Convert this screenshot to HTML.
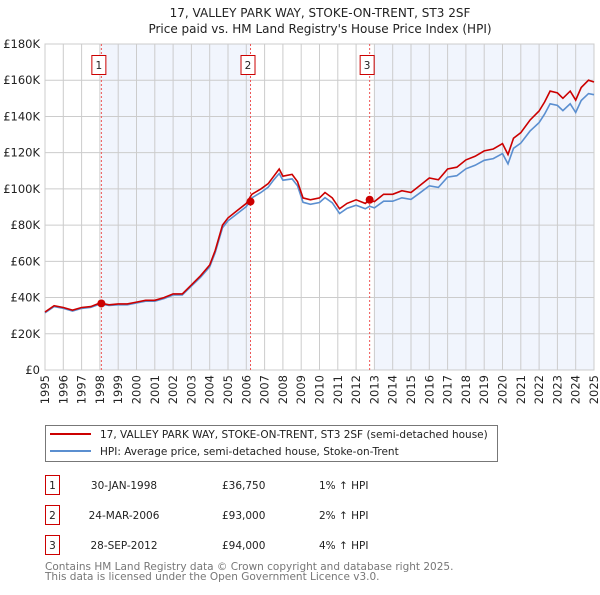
<!DOCTYPE html>
<html><head><meta charset="utf-8"><style>
body{margin:0;background:#fff;font-family:"Liberation Sans","DejaVu Sans",sans-serif;}
svg text{font-family:"DejaVu Sans","Liberation Sans",sans-serif;}
</style></head><body>
<svg id="c" width="600" height="590" viewBox="0 0 600 590" xmlns="http://www.w3.org/2000/svg">
<text x="320" y="17" text-anchor="middle" font-size="12" fill="#222">17, VALLEY PARK WAY, STOKE-ON-TRENT, ST3 2SF</text>
<text x="320" y="33" text-anchor="middle" font-size="12" fill="#222">Price paid vs. HM Land Registry's House Price Index (HPI)</text>
<g id="plot"></g>
<g>
<rect x="45.5" y="425.5" width="452" height="36" fill="#fff" stroke="#777"/>
<line x1="50" y1="434" x2="91" y2="434" stroke="#cc0000" stroke-width="2"/>
<text x="100" y="438" font-size="10.5" fill="#222">17, VALLEY PARK WAY, STOKE-ON-TRENT, ST3 2SF (semi-detached house)</text>
<line x1="50" y1="451" x2="91" y2="451" stroke="#5b8fd0" stroke-width="2"/>
<text x="100" y="455" font-size="10.5" fill="#222">HPI: Average price, semi-detached house, Stoke-on-Trent</text>
</g>
<g id="table" font-size="10.5" fill="#222"></g>
<text x="45" y="570" font-size="10.5" fill="#777">Contains HM Land Registry data © Crown copyright and database right 2025.</text>
<text x="45" y="580" font-size="10.5" fill="#777">This data is licensed under the Open Government Licence v3.0.</text>
</svg>
<script>
const years=[1995,1995.5,1996,1996.5,1997,1997.5,1998,1998.5,1999,1999.5,2000,2000.5,2001,2001.5,2002,2002.5,2003,2003.5,2004,2004.3,2004.7,2005,2005.5,2006,2006.3,2006.8,2007.2,2007.5,2007.8,2008,2008.5,2008.8,2009.1,2009.5,2010,2010.3,2010.7,2011.1,2011.5,2012,2012.5,2012.74,2013,2013.5,2014,2014.5,2015,2015.5,2016,2016.5,2017,2017.5,2018,2018.5,2019,2019.5,2020,2020.3,2020.6,2021,2021.5,2022,2022.3,2022.6,2023,2023.3,2023.7,2024,2024.3,2024.7,2025];
const price=[32,35.5,34.5,33,34.5,35,37,36,36.5,36.5,37.5,38.5,38.5,40,42,42,47,52,58,66,80,84,88,92,97,100,103,107,111,107,108,104,95,94,95,98,95,89,92,94,92,94,93,97,97,99,98,102,106,105,111,112,116,118,121,122,125,119,128,131,138,143,148,154,153,150,154,149,156,160,159];
const hpi=[31.6,35,34,32.6,34,34.6,36.4,35.6,36,36,37,38,38,39.4,41.4,41.4,46.3,51.2,57,64.8,78.5,82.4,86.3,90.2,95,98,101,105,108.5,104.8,105.5,101.7,92.6,91.5,92.5,95.2,92.3,86.4,89.2,91,89,90.4,89.5,93.2,93.2,95.1,94.2,97.9,101.7,100.8,106.5,107.3,111.1,113,115.8,116.7,119.5,113.8,122.4,125.3,131.9,136.6,141.3,147,146.1,143.2,147,142.2,148.8,152.6,152];
const yTicks=[0,20,40,60,80,100,120,140,160,180];
const xTicks=[1995,1996,1997,1998,1999,2000,2001,2002,2003,2004,2005,2006,2007,2008,2009,2010,2011,2012,2013,2014,2015,2016,2017,2018,2019,2020,2021,2022,2023,2024,2025];
const saleIds=["1","2","3"];
const saleDates=[1998.08,2006.23,2012.74];
const salePrices=[36.75,93,94];
const saleDateLabels=["30-JAN-1998","24-MAR-2006","28-SEP-2012"];
const salePriceLabels=["£36,750","£93,000","£94,000"];
const saleHpiLabels=["1% ↑ HPI","2% ↑ HPI","4% ↑ HPI"];

const L=45,R=594,T=44,B=370;
const X=v=>L+(v-1995)/30*(R-L);
const Y=v=>B-v/180*(B-T);
const NS="http://www.w3.org/2000/svg";
const plot=document.getElementById('plot');
function mk(tag,attrs,parent){const e=document.createElementNS(NS,tag);for(const k in attrs)e.setAttribute(k,attrs[k]);(parent||plot).appendChild(e);return e;}

let bg=mk('rect',{x:L,y:T,width:R-L,height:B-T,fill:'#fff'});


let s1=mk('rect',{x:X(saleDates[0]),y:T,width:X(saleDates[1])-X(saleDates[0]),height:B-T,fill:'#eef3fc',opacity:0.8});


let s2=mk('rect',{x:X(2013),y:T,width:R-X(2013),height:B-T,fill:'#eef3fc',opacity:0.8});



yTicks.forEach(v=>{
 let g=mk('line',{x1:L,x2:R,y1:Y(v),y2:Y(v),stroke:'#ccc','stroke-width':1});
 
 
 let t=mk('text',{x:40,y:Y(v)+4,'text-anchor':'end','font-size':11.5,fill:'#222'});
 t.textContent=v===0?'£0':'£'+v+'K';
 
 
});
xTicks.forEach(v=>{
 let g=mk('line',{x1:X(v),x2:X(v),y1:T,y2:B,stroke:'#ccc','stroke-width':1});
 
 
 let t=mk('text',{x:0,y:0,'text-anchor':'end','font-size':11.5,fill:'#222',transform:`translate(${X(v)+4},${B+5}) rotate(-90)`});
 t.textContent=v;
 
 
});
let fr=mk('rect',{x:L,y:T,width:R-L,height:B-T,fill:'none',stroke:'#ccc'});



saleDates.forEach((d,i)=>{
 let l=mk('line',{x1:X(d),x2:X(d),y1:T,y2:B,stroke:'#e55','stroke-width':1,'stroke-dasharray':'2,2'});
 
 
 let b=mk('rect',{x:X(d)-9.5,y:55.5,width:14,height:19,fill:'#fff',stroke:'#c00'});
 
 
 let t=mk('text',{x:X(d)-2.5,y:69,'text-anchor':'middle','font-size':10.5,fill:'#222'});
 t.textContent=saleIds[i];
 
 
});

const path=arr=>arr.map((v,i)=>(i?'L':'M')+X(years[i]).toFixed(1)+','+Y(v).toFixed(1)).join('');
let hl=mk('path',{d:path(hpi),fill:'none',stroke:'#5b8fd0','stroke-width':1.6});


let pl=mk('path',{d:path(price),fill:'none',stroke:'#cc0000','stroke-width':1.6});


saleDates.forEach((d,i)=>{
 let c=mk('circle',{cx:X(d),cy:Y(salePrices[i]),r:4,fill:'#cc0000'});
 
 
});

const tb=document.getElementById('table');
saleIds.forEach((id,i)=>{
 const y=475+i*30;
 let b=mk('rect',{x:45.5,y:y+0.5,width:14,height:19,fill:'#fff',stroke:'#c00'},tb);
 
 
 const cells=[[52.5,id,'middle'],[124,saleDateLabels[i],'middle'],[222,salePriceLabels[i],'start'],[319,saleHpiLabels[i],'start']];
 cells.forEach(c=>{
  let t=mk('text',{x:c[0],y:y+14,'text-anchor':c[2],fill:'#222'},tb);
  t.textContent=c[1];
  
  
 });
});
</script>
</body></html>
